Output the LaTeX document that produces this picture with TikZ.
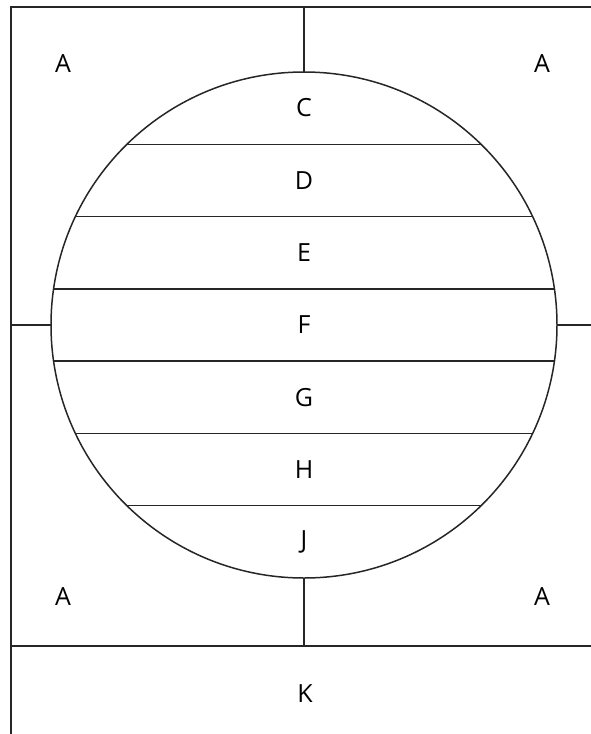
\documentclass[tikz,border=0pt]{standalone}
\usepackage{fontspec}
\setmainfont{Open Sans}
\usetikzlibrary{positioning, calc}

\begin{document}
\begin{tikzpicture}[
		x=1pt, y=-1pt,
		frame/.style={draw=black!85, line width=2pt},
		zone/.style={draw=black!85, line width=1.5pt},
		letter/.style={font=\fontsize{25}{29}\selectfont, inner sep=0pt}
		]
		
		\useasboundingbox (0,0) rectangle (591,734);
		
		% --- outer frame ---
		\coordinate (tl) at (11,7);
		\coordinate (tr) at (591,7);
		\coordinate (bl) at (11,734);
		\coordinate (kl) at (11,646);
		\coordinate (kr) at (591,646);
		\draw[frame] (bl) -- (tl) -- (tr);
		\draw[frame] (kl) -- (kr);
		
		% --- the circle and its bands ---
		\coordinate (c) at (304,325);
		\def\rad{253}
		\begin{scope}
			\clip (c) circle (\rad);
			\foreach \k in {1,...,6}
			\draw[zone] (0,{72+\k*506/7}) -- (591,{72+\k*506/7});
		\end{scope}
		\draw[zone] (c) circle (\rad);
		
		% --- ticks from circle to frame ---
		\draw[zone] (304,7) -- ($(c)+(0,-\rad)$);
		\draw[zone] ($(c)+(0,\rad)$) -- (304,646);
		\draw[zone] (11,325) -- ($(c)+(-\rad,0)$);
		\draw[zone] ($(c)+(\rad,0)$) -- (591,325);
		
		% corner labels
		\node[letter] (a1) at (63,64) {A};
		\node[letter] (a2) at (542,64) {A};
		\node[letter] (a3) at (63,597) {A};
		\node[letter] (a4) at (542,597) {A};
		
		% band labels
		\foreach \t [count=\i from 0] in {C,D,E,F,G,H,J}
		\node[letter] (band\t) at (304,{108+\i*506/7}) {\t};
		
		\node[letter] (k) at (305,694) {K};
		
	\end{tikzpicture}
\end{document}
